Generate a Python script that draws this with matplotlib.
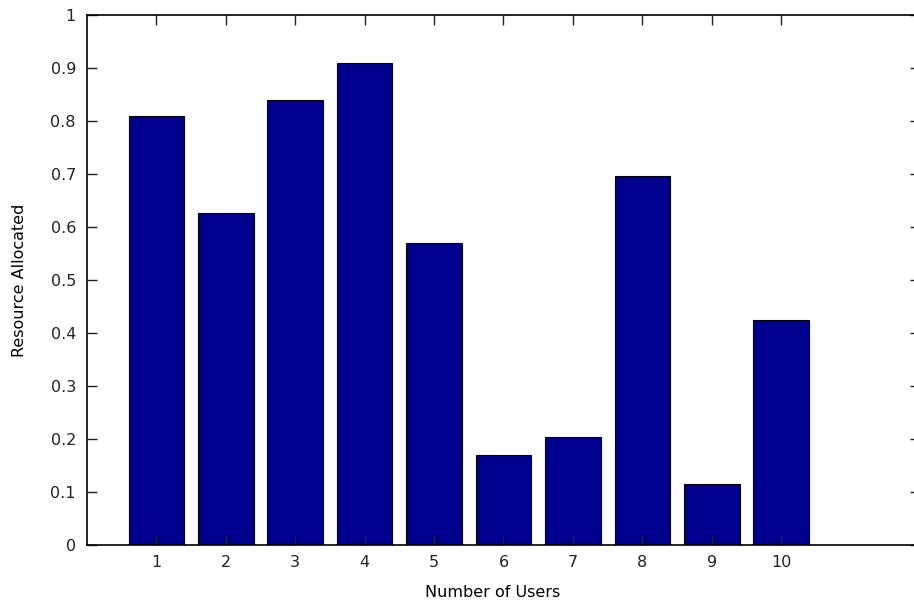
import matplotlib
matplotlib.use("Agg")
import matplotlib.pyplot as plt

users = [1, 2, 3, 4, 5, 6, 7, 8, 9, 10]
resource = [0.809, 0.626, 0.840, 0.909, 0.570, 0.170, 0.204, 0.696, 0.115, 0.425]
yticks = [0, 0.1, 0.2, 0.3, 0.4, 0.5, 0.6, 0.7, 0.8, 0.9, 1]
ytick_labels = ["0", "0.1", "0.2", "0.3", "0.4", "0.5", "0.6", "0.7", "0.8", "0.9", "1"]

plt.rcParams["font.family"] = ["DejaVu Sans"]

fig = plt.figure(figsize=(9.14, 6.04), dpi=100)
# axes right edge runs just past the picture, as in the cropped original
ax = fig.add_axes([87 / 914, 59 / 604, 833 / 914, 530 / 604])

ax.bar(users, resource, width=0.8, color="#00008f", edgecolor="black", linewidth=0.8)

ax.set_xlim(0, 12)
ax.set_ylim(0, 1)
ax.set_xticks(users)
ax.set_yticks(yticks)
ax.set_yticklabels(ytick_labels)
ax.tick_params(direction="in", length=7, width=1, top=True, right=True,
               labelsize=11.5, colors="#222222")
ax.tick_params(axis="x", pad=7)
ax.tick_params(axis="y", pad=8)
for s in ax.spines.values():
    s.set_linewidth(1.2)

ax.set_xlabel("Number of Users", fontsize=11.5, labelpad=8)
ax.xaxis.set_label_coords(0.487, -0.075)
ax.set_ylabel("Resource Allocated", fontsize=11.5, labelpad=17)

fig.savefig("out.png", dpi=100)
